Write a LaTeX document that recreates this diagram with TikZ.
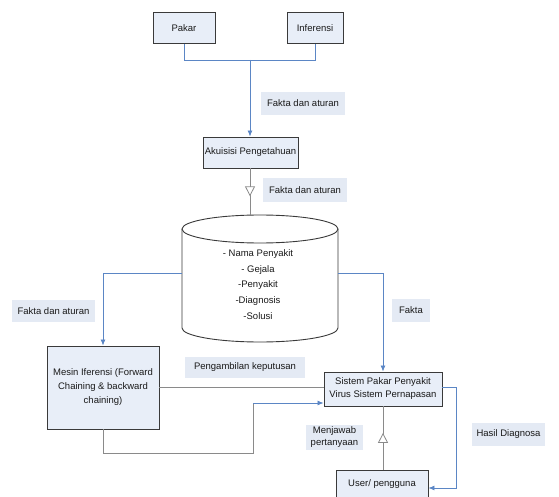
\documentclass[tikz,border=0pt]{standalone}
\usepackage{fontspec}
\setmainfont{Liberation Sans}
\usetikzlibrary{arrows.meta,decorations.markings,calc}
\definecolor{boxfill}{HTML}{E8EEF8}
\definecolor{lblfill}{HTML}{E4EAF4}
\definecolor{blueline}{HTML}{5B86C5}
\definecolor{grayline}{HTML}{8A8A8A}
\definecolor{boxline}{HTML}{3A3A3A}
\tikzset{
  procbox/.style={draw=boxline, fill=boxfill, line width=0.9pt, inner sep=1pt, align=center, font=\fontsize{9.5}{13}\selectfont, text=black!90},
  lbl/.style={fill=lblfill, inner sep=1pt, align=center, font=\fontsize{9.5}{11.5}\selectfont, text=black!90},
  bline/.style={draw=blueline, line width=0.8pt},
  gline/.style={draw=grayline, line width=0.8pt},
  barrow/.style={-{Latex[length=6pt,width=5pt]}},
  hollowmid/.style={postaction={decorate,decoration={markings,mark=at position #1 with {\arrow{Triangle[open,width=10pt,length=10pt,fill=white]}}}}}
}
\begin{document}
\begin{tikzpicture}[x=1pt,y=-1pt]
\useasboundingbox (0,0) rectangle (559,497);
% boxes
\node[procbox, minimum width=62pt, minimum height=31pt] (pakar) at (184,28) {Pakar};
\node[procbox, minimum width=56pt, minimum height=31pt] (inf) at (315,28) {Inferensi};
\node[procbox, minimum width=95pt, minimum height=31pt] (akuisisi) at (250.5,152.5) {Akuisisi Pengetahuan};
\node[procbox, minimum width=112pt, minimum height=83pt, font=\fontsize{9.5}{14}\selectfont] (mesin) at (103,387.5) {Mesin Iferensi (Forward\\Chaining \& backward\\chaining)};
\node[procbox, minimum width=118pt, minimum height=34pt] (sistem) at (383,389) {Sistem Pakar Penyakit\\Virus Sistem Pernapasan};
\node[procbox, minimum width=92pt, minimum height=27pt] (user) at (382,484) {User/ pengguna};
% labels
\node[lbl, minimum width=84pt, minimum height=23pt] (l1) at (303,103.5) {Fakta dan aturan};
\node[lbl, minimum width=84pt, minimum height=24pt] (l2) at (305,190) {Fakta dan aturan};
\node[lbl, minimum width=83pt, minimum height=22pt] (l3) at (53.5,311) {Fakta dan aturan};
\node[lbl, minimum width=38pt, minimum height=23pt] (l4) at (411,310.5) {Fakta};
\node[lbl, minimum width=120pt, minimum height=21pt] (l5) at (245,367.5) {Pengambilan keputusan};
\node[lbl, minimum width=57pt, minimum height=25pt] (l6) at (334.5,437) {Menjawab\\pertanyaan};
\node[lbl, minimum width=73pt, minimum height=23pt] (l7) at (508.5,434.5) {Hasil Diagnosa};
% cylinder (database)
\draw[draw=boxline, line width=0.9pt, fill=white]
  (182,229) -- (182,328) arc[start angle=180, end angle=0, x radius=78, y radius=14]
  -- (338,229);
\draw[draw=boxline, line width=0.9pt, fill=white] (260,229) ellipse[x radius=78, y radius=14];
\node[minimum width=156pt, minimum height=127pt] (db) at (260,278.5) {};
\node[align=center, font=\fontsize{9.5}{15.7}\selectfont, text=black!90] (dbtext) at (258,284.5)
  {- Nama Penyakit\\- Gejala\\-Penyakit\\-Diagnosis\\-Solusi};
\coordinate (dbtop) at (250,215);
\coordinate (dbL) at (182,273);
\coordinate (dbR) at (338,273);
% connectors
\coordinate (j) at (250,60);
\draw[bline] (pakar.south) -- (pakar.south |- j) -- (inf.south |- j) -- (inf.south);
\draw[bline, barrow] (j) -- (akuisisi.north -| j);
\draw[gline, hollowmid=0.6] (akuisisi.south -| dbtop) -- (dbtop);
\draw[bline, barrow] (dbL) -- (dbL -| mesin.north) -- (mesin.north);
\draw[bline, barrow] (dbR) -- (dbR -| sistem.north) -- (sistem.north);
\draw[gline] (mesin.east) -- (mesin.east -| sistem.west);
\coordinate (lp1) at (103,453);
\coordinate (lp2) at (253,453);
\coordinate (lp3) at (253,403);
\draw[gline] (mesin.south) -- (lp1) -- (lp2) -- (lp3);
\draw[bline, barrow] (lp3) -- (lp3 -| sistem.west);
\draw[gline, hollowmid=0.585] (user.north -| sistem.south) -- (sistem.south);
\coordinate (h1) at (456,387);
\coordinate (h2) at (456,488);
\draw[bline, barrow] (h1 -| sistem.east) -- (h1) -- (h2) -- (h2 -| user.east);
\end{tikzpicture}
\end{document}
